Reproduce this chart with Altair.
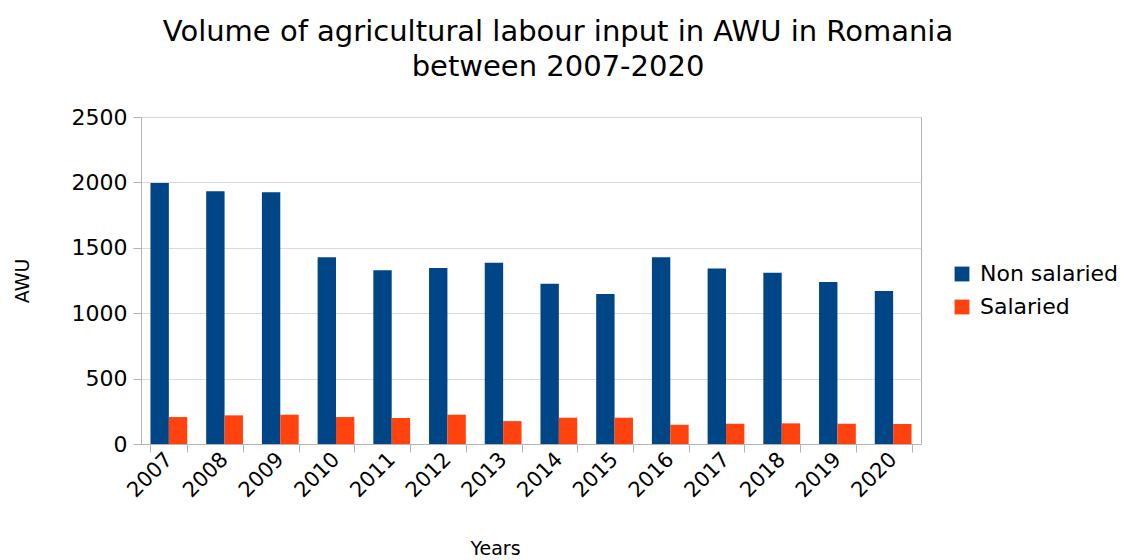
import altair as alt
import pandas as pd

years = ["2007", "2008", "2009", "2010", "2011", "2012", "2013",
         "2014", "2015", "2016", "2017", "2018", "2019", "2020"]
non_salaried = [1995, 1933, 1925, 1427, 1328, 1345, 1385,
                1226, 1147, 1427, 1341, 1310, 1238, 1170]
salaried = [206, 219, 224, 206, 198, 224, 175,
            201, 201, 147, 155, 158, 155, 153]
series = ["Non salaried", "Salaried"]
colors = ["#004586", "#ff420e"]

rows = []
for y, a, b in zip(years, non_salaried, salaried):
    rows.append({"Year": y, "Series": series[0], "AWU": a})
    rows.append({"Year": y, "Series": series[1], "AWU": b})
df = pd.DataFrame(rows)

FONT = "DejaVu Sans"

chart = alt.Chart(df).mark_bar().encode(
    x=alt.X("Year:N", sort=years,
            scale=alt.Scale(paddingInner=0.34, paddingOuter=0.17),
            axis=alt.Axis(title="Years", labelAngle=-45, labelAlign="right",
                          labelBaseline="middle", labelFontSize=21,
                          labelPadding=4, tickBand="extent", tickSize=8,
                          tickColor="#b3b3b3", domainColor="#b3b3b3",
                          titleFontSize=19, titleFontWeight="normal",
                          titleX=354, titleY=104, titleAlign="center",
                          titleBaseline="middle", grid=False)),
    xOffset=alt.XOffset("Series:N", sort=series),
    y=alt.Y("AWU:Q", scale=alt.Scale(domain=[0, 2500]),
            axis=alt.Axis(title="AWU", values=[0, 500, 1000, 1500, 2000, 2500],
                          format="d",
                          labelFontSize=22, labelPadding=6, tickSize=8,
                          tickColor="#b3b3b3", domainColor="#b3b3b3",
                          gridColor="#d9d9d9", titleFontSize=19,
                          titleFontWeight="normal", titleX=-119, titleY=163.5,
                          titleAlign="center", titleBaseline="middle")),
    color=alt.Color("Series:N", sort=series,
                    scale=alt.Scale(domain=series, range=colors),
                    legend=alt.Legend(title=None, orient="none", legendX=810,
                                      legendY=146, labelFontSize=22,
                                      symbolType="square", symbolSize=220,
                                      symbolStrokeWidth=0, rowPadding=11,
                                      labelOffset=7)),
).properties(
    width=780,
    height=327,
    title=alt.TitleParams(
        text=["Volume of agricultural labour input in AWU in Romania",
              "between 2007-2020"],
        fontSize=29, font=FONT, fontWeight="normal", color="#000000",
        anchor="middle", frame="group", dx=27, offset=24, lineHeight=35),
    autosize=alt.AutoSizeParams(type="none"),
    padding={"left": 141, "top": 117, "right": 204, "bottom": 116},
).configure(font=FONT).configure_view(
    stroke="#b3b3b3"
).configure_axis(
    labelColor="#000000", titleColor="#000000", labelFont=FONT, titleFont=FONT
).configure_legend(labelFont=FONT, labelColor="#000000")

chart.save("out.html", embed_options={"renderer": "svg", "actions": False})
